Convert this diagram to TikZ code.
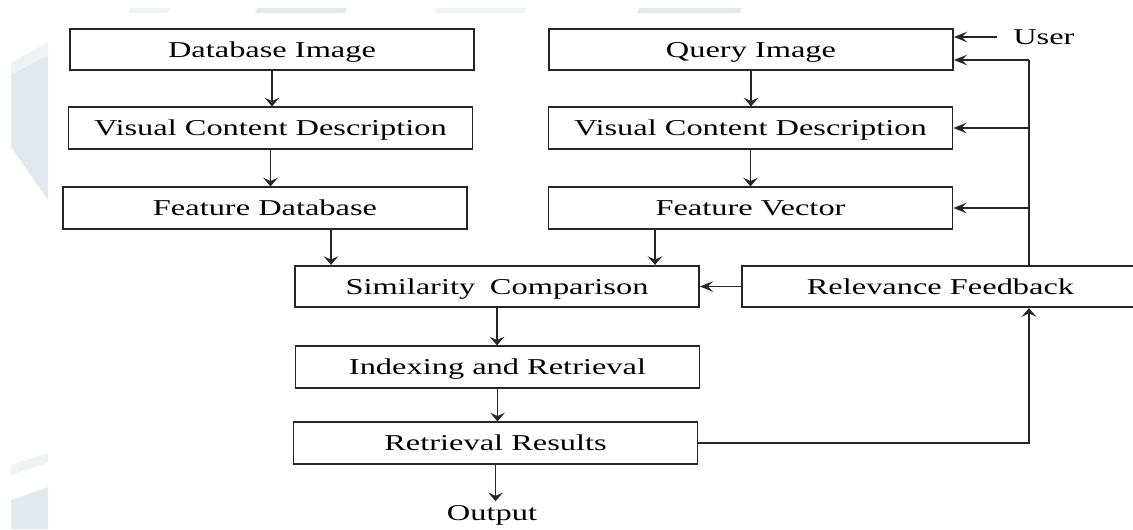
\documentclass[tikz,border=0pt]{standalone}
\usepackage{fontspec}
\setmainfont{Liberation Serif}[FakeStretch=1.43]
\usepackage{xcolor}
\usetikzlibrary{arrows.meta, calc}

\definecolor{wmark}{HTML}{E3E8ED}
\definecolor{wmarklight}{HTML}{EFF2F5}

\begin{document}
\begin{tikzpicture}[x=0.75pt, y=-0.75pt,
	box/.style={draw=black!85, line width=1.4pt, minimum width=303pt, minimum height=31pt,
		inner sep=0pt, text height=11.25pt, text depth=0pt, font=\fontsize{17}{20}\selectfont},
	txt/.style={inner sep=0pt, text height=11.25pt, text depth=0pt, font=\fontsize{17}{20}\selectfont},
	link/.style={draw=black!85, line width=1.4pt},
	vArr/.style={link, -{Stealth[length=6.5pt, width=11pt, inset=2.5pt]}},
	hArr/.style={link, -{Stealth[length=10pt, width=8pt, inset=4pt]}}
]
	% Page frame
	\useasboundingbox (0,0) rectangle (1133,529);
	
	% Faint background marks
	\fill[wmarklight] (11,63) -- (48,42) -- (48,55) -- (11,75) -- cycle;
	\fill[wmark] (11,75) -- (48,55) -- (48,200) -- (11,147) -- cycle;
	\fill[wmarklight] (130,8) -- (170,8) -- (167,13) -- (128,13) -- cycle;
	\fill[wmark] (257,8) -- (347,8) -- (345,13) -- (255,13) -- cycle;
	\fill[wmarklight] (437,8) -- (526,8) -- (524,13) -- (435,13) -- cycle;
	\fill[wmark] (639,8) -- (742,8) -- (740,13) -- (637,13) -- cycle;
	\fill[wmarklight] (11,465) -- (48,453) -- (48,463) -- (11,475) -- cycle;
	\fill[wmark] (11,500) -- (48,487) -- (48,529) -- (11,529) -- cycle;
	
	% Database side
	\node[box] (dbimg)  at (272,49.5) {Database Image};
	\node[box] (dbvcd)  at (270.5,128) {Visual Content Description};
	\node[box] (featdb) at (265,208) {Feature Database};
	
	% Query side
	\node[box] (qimg)    at (751,49.5) {Query Image};
	\node[box] (qvcd)    at (750.5,128) {Visual Content Description};
	\node[box] (featvec) at (750.5,208) {Feature Vector};
	
	% Matching and retrieval
	\node[box] (simcmp)  at (497,286.5) {Similarity\hspace{5pt} Comparison};
	\node[box, minimum width=298pt] (relfb) at (940.5,286.5) {Relevance Feedback};
	\node[box] (index)   at (497.5,367) {Indexing and Retrieval};
	\node[box] (results) at (495.5,443) {Retrieval Results};
	
	% Loose labels
	\node[txt, inner ysep=3pt] (output) at (492,513) {Output};
	\node[txt, anchor=west, inner xsep=12pt] (user) at (997,37) {User};
	
	% Where the connectors leave or turn
	\coordinate (fdout) at (331,0);
	\coordinate (fvout) at (655,0);
	\coordinate (fb) at (1029,60);
	
	% Down the two columns
	\draw[vArr] (dbimg.south) -- (dbimg.south |- dbvcd.north);
	\draw[vArr] (dbvcd.south) -- (dbvcd.south |- featdb.north);
	\draw[vArr] (qimg.south) -- (qimg.south |- qvcd.north);
	\draw[vArr] (qvcd.south) -- (qvcd.south |- featvec.north);
	\draw[vArr] (featdb.south -| fdout) -- (simcmp.north -| fdout);
	\draw[vArr] (featvec.south -| fvout) -- (simcmp.north -| fvout);
	
	% Down the middle
	\draw[vArr] (simcmp.south) -- (simcmp.south |- index.north);
	\draw[vArr] (index.south) -- (index.south |- results.north);
	\draw[vArr] (results.south) -- (results.south |- output.north);
	
	% Feedback loop
	\draw[hArr] (relfb.west) -- (simcmp.east);
	\draw[vArr] (results.east) -| (relfb.south -| fb);
	\draw[link] (relfb.north -| fb) -- (fb);
	\draw[hArr] (fb) -- (fb -| qimg.east);
	\draw[hArr] (fb |- qvcd.east) -- (qvcd.east);
	\draw[hArr] (fb |- featvec.east) -- (featvec.east);
	\draw[hArr] (user.west) -- (user.west -| qimg.east);
	
\end{tikzpicture}
\end{document}
